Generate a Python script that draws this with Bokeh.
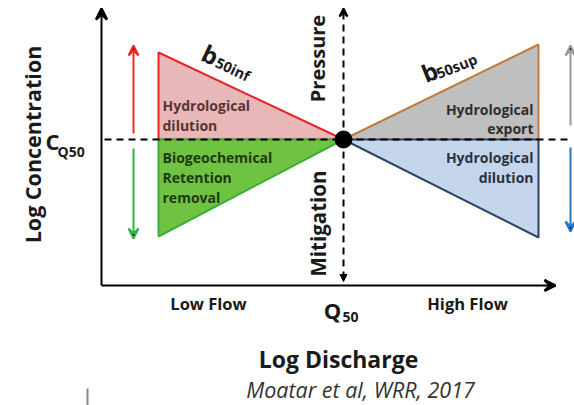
from bokeh.plotting import figure
from bokeh.models import Range1d, Arrow, VeeHead, NormalHead, ColumnDataSource
from bokeh.core.properties import value
from bokeh.embed import file_html
from bokeh.resources import INLINE
import math

# ---- Data (log discharge relative to Q50, log concentration relative to C_Q50) ----
q_low, q50, q_high = -1.85, 0.0, 1.95
c50 = 0.0
c_inf_top = 0.87      # red wedge top (b50inf, dilution)
c_inf_bottom = -0.97  # green wedge bottom (retention)
c_sup_top = 0.95      # grey wedge top (export)
c_sup_bottom = -0.98  # blue wedge bottom (dilution)

wedge_names = ["inf_dilution", "inf_retention", "sup_export", "sup_dilution"]
wedge_x = [[q_low, q_low, q50], [q_low, q_low, q50], [q50, q_high, q_high], [q50, q_high, q_high]]
wedge_y = [[c_inf_top, c50, c50], [c50, c_inf_bottom, c50], [c50, c_sup_top, c50], [c50, c50, c_sup_bottom]]
wedge_fill = ["#e8b8b8", "#70c242", "#bfbfbf", "#c5d6ec"]
wedge_line = ["#e8242a", "#3cae3a", "#c27a3c", "#2c4566"]

flow_labels = ["Low Flow", "High Flow"]
FONT = value("Open Sans")

p = figure(width=574, height=405, output_backend="svg", toolbar_location=None,
           x_range=Range1d(-3.43, 2.31), y_range=Range1d(-2.66, 1.39),
           min_border=0, outline_line_color=None)
p.axis.visible = False
p.grid.visible = False
p.background_fill_color = "white"

# wedges
src = ColumnDataSource(dict(xs=wedge_x, ys=wedge_y, fill=wedge_fill, line=wedge_line))
p.patches("xs", "ys", source=src, fill_color="fill", line_color="line", line_width=2)

# axes with arrows
ax_x0 = -2.42
ax_y0 = -1.46
p.add_layout(Arrow(end=VeeHead(size=11, line_color="black", line_width=2.5),
                   x_start=ax_x0, y_start=ax_y0, x_end=ax_x0, y_end=1.31,
                   line_color="black", line_width=2))
p.add_layout(Arrow(end=VeeHead(size=11, line_color="black", line_width=2.5),
                   x_start=ax_x0, y_start=ax_y0, x_end=2.12, y_end=ax_y0,
                   line_color="black", line_width=2))

# dashed reference lines
p.line([-2.39, 2.29], [c50, c50], line_color="black", line_width=2, line_dash="7 5")
p.add_layout(Arrow(end=VeeHead(size=8, line_color="black", line_width=2),
                   x_start=q50, y_start=c50, x_end=q50, y_end=1.31,
                   line_color="black", line_width=2, line_dash="7 5"))
p.add_layout(Arrow(end=NormalHead(size=7, fill_color="black", line_color="black"),
                   x_start=q50, y_start=c50, x_end=q50, y_end=-1.42,
                   line_color="black", line_width=2, line_dash="7 5"))

# central point
p.scatter([q50], [c50], size=17, color="black")

# colored direction arrows
arrow_specs = [(-2.10, 0.06, 0.94, "#ee2a2a"), (-2.10, -0.09, -0.99, "#33b24a"),
               (2.27, 0.14, 0.94, "#9a9a9a"), (2.27, -0.08, -0.92, "#1f78c8")]
for ax_, y0, y1, col in arrow_specs:
    p.add_layout(Arrow(end=VeeHead(size=10, line_color=col, line_width=2),
                       x_start=ax_, y_start=y0, x_end=ax_, y_end=y1,
                       line_color=col, line_width=2))

def txt(x, y, s, size, color="#1a1a1a", align="center", angle=0.0, style="bold", baseline="middle"):
    p.text([x], [y], text=[s], text_font=FONT, text_font_size=size, text_font_style=style,
           text_color=color, text_align=align, text_baseline=baseline, angle=angle)

# axis titles
txt(-3.11, -0.05, "Log Concentration", "21.5px", angle=math.pi / 2)
txt(-0.05, -2.19, "Log Discharge", "23px")
txt(0.17, -2.50, "Moatar et al, WRR, 2017", "21.5px", color="#333333", style="italic")

# C_Q50 and Q50
txt(-2.98, -0.01, "C", "22px", align="left")
txt(-2.86, -0.12, "Q50", "14px", align="left")
txt(-0.11, -1.70, "Q", "22px", align="center")
txt(-0.01, -1.77, "50", "14px", align="left")

# flow labels
txt(-1.35, -1.64, flow_labels[0], "16.5px")
txt(1.24, -1.64, flow_labels[1], "16.5px")

# pressure / mitigation
txt(-0.26, 0.81, "Pressure", "20px", angle=math.pi / 2)
txt(-0.26, -0.84, "Mitigation", "20.5px", angle=math.pi / 2)

# wedge labels
txt(-1.81, 0.34, "Hydrological", "14px", color="#5a3434", align="left")
txt(-1.81, 0.14, "dilution", "14px", color="#5a3434", align="left")
txt(-1.81, -0.18, "Biogeochemical", "14px", color="#1d3a10", align="left")
txt(-1.81, -0.38, "Retention", "14px", color="#1d3a10", align="left")
txt(-1.81, -0.58, "removal", "14px", color="#1d3a10", align="left")
txt(1.90, 0.30, "Hydrological", "14px", color="#2e2e2e", align="right")
txt(1.90, 0.11, "export", "14px", color="#2e2e2e", align="right")
txt(1.90, -0.18, "Hydrological", "14px", color="#2a3140", align="right")
txt(1.90, -0.38, "dilution", "14px", color="#2a3140", align="right")

# slope labels
a_inf = -0.44
txt(-1.33, 0.85, "b", "24px", align="center", angle=a_inf)
txt(-1.27, 0.78, "50inf", "14.5px", align="left", angle=a_inf)
a_sup = 0.38
txt(0.86, 0.68, "b", "24px", align="center", angle=a_sup)
txt(0.935, 0.655, "50sup", "14.5px", align="left", angle=a_sup)

# small stray mark
p.line([-2.56, -2.56], [-2.49, -2.66], line_color="#888888", line_width=2)

open("out.html", "w").write(file_html(p, INLINE))
